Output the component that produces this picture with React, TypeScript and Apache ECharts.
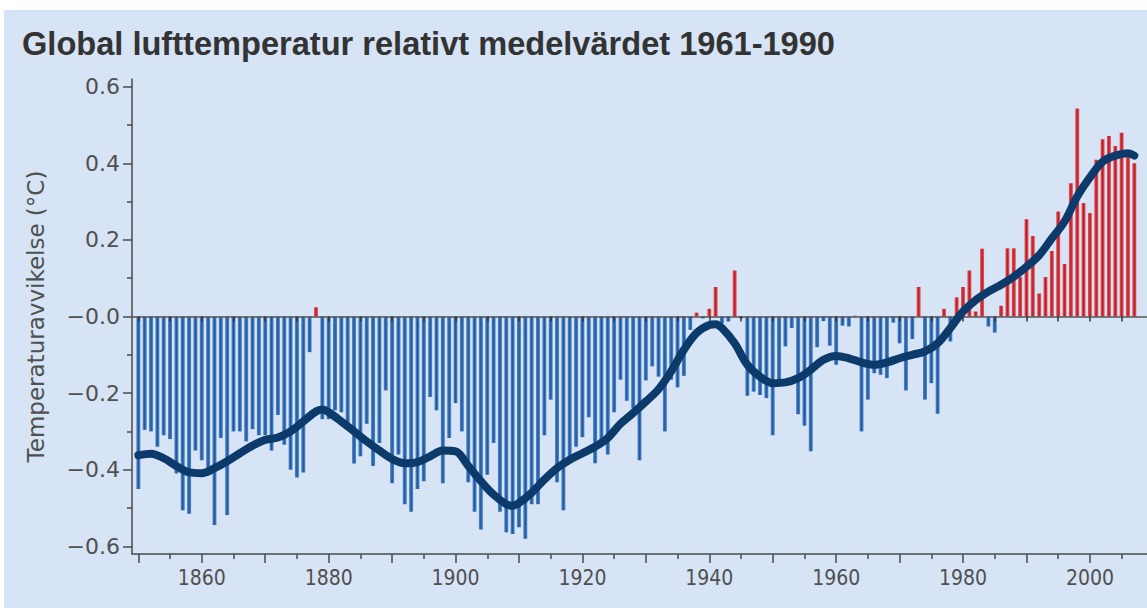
import React, { useEffect, useRef } from "react";
import * as echarts from "echarts";

const TITLE = "Global lufttemperatur relativt medelvärdet 1961-1990";
const Y_NAME = "Temperaturavvikelse (°C)";
const FIRST_YEAR = 1850;

// Annual anomalies (°C)
const anomalies1850to1899 = [
  -0.45, -0.296, -0.3, -0.34, -0.31, -0.32, -0.41, -0.506, -0.515, -0.35,
  -0.375, -0.4, -0.544, -0.317, -0.518, -0.3, -0.3, -0.326, -0.294, -0.31,
  -0.31, -0.35, -0.257, -0.335, -0.4, -0.42, -0.407, -0.093, 0.024, -0.268,
  -0.268, -0.245, -0.25, -0.29, -0.384, -0.365, -0.28, -0.39, -0.33, -0.193,
  -0.435, -0.36, -0.49, -0.51, -0.45, -0.43, -0.21, -0.245, -0.435, -0.317,
];
const anomalies1900to1949 = [
  -0.226, -0.3, -0.433, -0.51, -0.556, -0.413, -0.33, -0.51, -0.563, -0.568,
  -0.55, -0.58, -0.49, -0.49, -0.31, -0.217, -0.433, -0.506, -0.38, -0.34,
  -0.315, -0.263, -0.383, -0.33, -0.36, -0.25, -0.165, -0.22, -0.24, -0.375,
  -0.167, -0.13, -0.157, -0.3, -0.165, -0.185, -0.155, -0.035, 0.01, -0.005,
  0.02, 0.077, -0.017, -0.013, 0.12, -0.005, -0.207, -0.196, -0.205, -0.213,
];
const anomalies1950to2007 = [
  -0.31, -0.18, -0.078, -0.03, -0.255, -0.285, -0.352, -0.08, -0.012, -0.076,
  -0.126, -0.024, -0.026, 0.002, -0.3, -0.217, -0.148, -0.152, -0.161, -0.016,
  -0.07, -0.193, -0.059, 0.077, -0.217, -0.174, -0.254, 0.02, -0.065, 0.05,
  0.077, 0.12, 0.013, 0.177, -0.026, -0.042, 0.028, 0.178, 0.178, 0.103,
  0.254, 0.21, 0.06, 0.103, 0.171, 0.274, 0.137, 0.348, 0.543, 0.296,
  0.27, 0.409, 0.463, 0.471, 0.445, 0.48, 0.42, 0.4,
];

// Smoothed curve
const smoothYears = [
  1850, 1852, 1854, 1856, 1858, 1860, 1862, 1864, 1866, 1868, 1870, 1872, 1874,
  1876, 1878, 1879, 1880, 1882, 1884, 1886, 1888, 1890, 1892, 1894, 1896, 1898,
  1900, 1902, 1904, 1906, 1908, 1909, 1910, 1912, 1914, 1916, 1918, 1920, 1922,
  1924, 1926, 1928, 1930, 1932, 1934, 1936, 1938, 1940, 1941, 1942, 1944, 1946,
  1948, 1950, 1952, 1954, 1956, 1958, 1960, 1962, 1964, 1966, 1968, 1970, 1972,
  1974, 1976, 1978, 1980, 1982, 1984, 1986, 1988, 1990, 1992, 1994, 1996, 1998,
  2000, 2002, 2004, 2006, 2007,
];
const smoothValues = [
  -0.362, -0.358, -0.37, -0.39, -0.407, -0.409, -0.396, -0.378, -0.357, -0.337,
  -0.322, -0.316, -0.3, -0.274, -0.248, -0.243, -0.25, -0.274, -0.3, -0.326,
  -0.35, -0.372, -0.383, -0.38, -0.365, -0.35, -0.352, -0.39, -0.43, -0.465,
  -0.49, -0.494, -0.487, -0.46, -0.426, -0.396, -0.374, -0.357, -0.34, -0.317,
  -0.28, -0.252, -0.222, -0.19, -0.143, -0.087, -0.043, -0.022, -0.02, -0.03,
  -0.07, -0.126, -0.157, -0.174, -0.172, -0.161, -0.139, -0.113, -0.103, -0.109,
  -0.12, -0.126, -0.12, -0.109, -0.1, -0.091, -0.07, -0.03, 0.013, 0.043, 0.065,
  0.083, 0.104, 0.13, 0.16, 0.204, 0.248, 0.313, 0.363, 0.404, 0.42, 0.426, 0.42,
];

const xLabelYears = [1860, 1880, 1900, 1920, 1940, 1960, 1980, 2000];
const xMajorTickYears = [1850, 1860, 1870, 1880, 1890, 1900, 1910, 1920, 1930, 1940, 1950, 1960, 1970, 1980, 1990, 2000];
const xMinorTickYears = [1855, 1865, 1875, 1885, 1895, 1905, 1915, 1925, 1935, 1945, 1955, 1965, 1975, 1985, 1995, 2005];
const zeroLineTickYears = [...xMajorTickYears, ...xMinorTickYears];
const yLabelValues = [-0.6, -0.4, -0.2, 0, 0.2, 0.4, 0.6];
const yMinorTickValues = [-0.5, -0.3, -0.1, 0.1, 0.3, 0.5];

const AXIS_COLOR = "#4a4a4a";
const LABEL_COLOR = "#505050";

export default function App() {
  const ref = useRef<HTMLDivElement>(null);
  useEffect(() => {
    document.body.style.margin = "0";
    const chart = echarts.init(ref.current!, null, { renderer: "svg" });
    const all = [...anomalies1850to1899, ...anomalies1900to1949, ...anomalies1950to2007];
    const blue = new echarts.graphic.LinearGradient(0, 0, 1, 0, [
      { offset: 0, color: "#5c8dc8" },
      { offset: 0.5, color: "#1a57a2" },
      { offset: 1, color: "#5c8dc8" },
    ]);
    const red = new echarts.graphic.LinearGradient(0, 0, 1, 0, [
      { offset: 0, color: "#de666b" },
      { offset: 0.5, color: "#c4161f" },
      { offset: 1, color: "#de666b" },
    ]);
    const barData = all.map((v, i) => ({
      value: [FIRST_YEAR + i, v],
      itemStyle: { color: v >= 0 ? red : blue },
    }));
    const lineData = smoothYears.map((y, i) => [y, smoothValues[i]]);
    const fmtY = (v: number) => {
      if (Math.abs(v) < 1e-9) return "\u22120.0";
      return v < 0 ? "\u2212" + Math.abs(v).toFixed(1) : v.toFixed(1);
    };
    const xBase = { type: "value", min: 1849, max: 2009, splitLine: { show: false } };
    chart.setOption({
      animation: false,
      backgroundColor: "#d6e4f5",
      title: {
        text: TITLE,
        left: 17,
        top: 22,
        textStyle: {
          fontFamily: "Liberation Sans, Arial, sans-serif",
          fontWeight: "bold",
          fontSize: 32.6,
          color: "#333333",
        },
      },
      graphic: [
        { type: "rect", shape: { x: 0, y: 0, width: 1147, height: 10 }, style: { fill: "#ffffff" }, silent: true },
        { type: "rect", shape: { x: 0, y: 0, width: 4, height: 608 }, style: { fill: "#ffffff" }, silent: true },
      ],
      grid: { left: 132, top: 79, width: 1019, height: 475, containLabel: false },
      xAxis: [
        {
          ...xBase,
          position: "bottom",
          axisLine: { show: true, onZero: false, lineStyle: { color: AXIS_COLOR, width: 1.5 } },
          axisTick: { show: true, customValues: xMajorTickYears, length: 9, lineStyle: { color: AXIS_COLOR, width: 1.5 } },
          axisLabel: {
            show: true,
            customValues: xLabelYears,
            formatter: (v: number) => String(v),
            fontFamily: "DejaVu Sans Condensed, Liberation Sans Narrow, sans-serif",
            fontSize: 21,
            color: LABEL_COLOR,
            margin: 13,
          },
        },
        {
          ...xBase,
          position: "bottom",
          axisLine: { show: false, onZero: false },
          axisTick: { show: true, customValues: xMinorTickYears, length: 5, lineStyle: { color: AXIS_COLOR, width: 1.5 } },
          axisLabel: { show: false },
        },
        {
          ...xBase,
          position: "bottom",
          z: 5,
          axisLine: { show: true, onZero: true, onZeroAxisIndex: 0, lineStyle: { color: "#555555", width: 1.5 } },
          axisTick: { show: true, customValues: zeroLineTickYears, length: 5, lineStyle: { color: "#333333", width: 1.5 } },
          axisLabel: { show: false },
        },
      ],
      yAxis: [
        {
          type: "value",
          min: -0.62,
          max: 0.62,
          position: "left",
          name: Y_NAME,
          nameLocation: "middle",
          nameRotate: 90,
          nameGap: 85,
          nameTextStyle: { fontFamily: "DejaVu Sans, sans-serif", fontSize: 23, color: LABEL_COLOR },
          splitLine: { show: false },
          axisLine: { show: true, lineStyle: { color: AXIS_COLOR, width: 1.5 } },
          axisTick: { show: true, customValues: yLabelValues, length: 9, lineStyle: { color: AXIS_COLOR, width: 1.5 } },
          axisLabel: {
            show: true,
            customValues: yLabelValues,
            formatter: fmtY,
            fontFamily: "DejaVu Sans, sans-serif",
            fontSize: 22,
            color: LABEL_COLOR,
            margin: 12,
          },
        },
        {
          type: "value",
          min: -0.62,
          max: 0.62,
          position: "left",
          splitLine: { show: false },
          axisLine: { show: false },
          axisTick: { show: true, customValues: yMinorTickValues, length: 5, lineStyle: { color: AXIS_COLOR, width: 1.5 } },
          axisLabel: { show: false },
        },
      ],
      series: [
        {
          type: "bar",
          xAxisIndex: 0,
          yAxisIndex: 0,
          barWidth: 4,
          data: barData,
          z: 2,
        },
        {
          type: "line",
          xAxisIndex: 0,
          yAxisIndex: 0,
          data: lineData,
          smooth: 0.35,
          symbol: "none",
          lineStyle: { width: 8, color: "#0b3a6b", cap: "round", join: "round" },
          z: 6,
        },
      ],
    });
    return () => chart.dispose();
  }, []);
  return <div ref={ref} style={{ position: "fixed", left: 0, top: 0, width: 1147, height: 608 }} />;
}
